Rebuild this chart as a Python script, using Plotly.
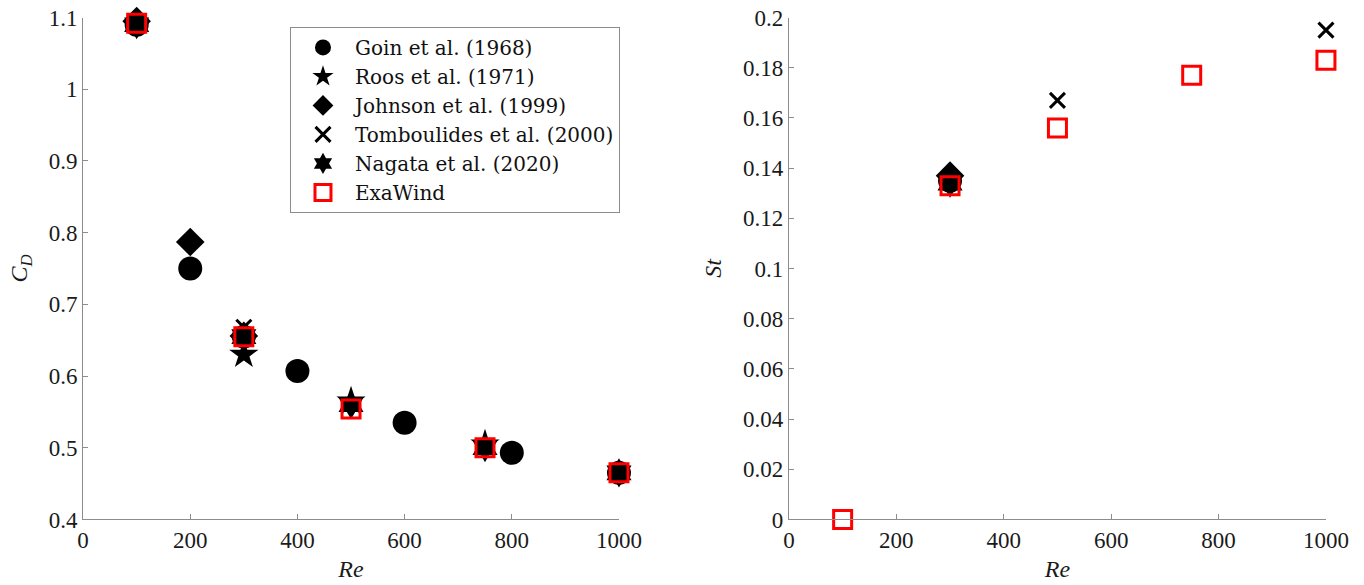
import plotly.graph_objects as go

# ---- data ----
goin_re = [100, 200, 300, 400, 600, 800, 1000]
goin_cd = [1.09, 0.75, 0.655, 0.607, 0.535, 0.493, 0.465]
roos_re = [300, 500, 750]
roos_cd = [0.63, 0.565, 0.505]
johnson_re = [100, 200, 300]
johnson_cd = [1.095, 0.787, 0.656]
tomb_re = [100, 300]
tomb_cd = [1.09, 0.668]
nagata_re = [100, 300, 500, 750, 1000]
nagata_cd = [1.09, 0.655, 0.56, 0.5, 0.465]
exa_re = [100, 300, 500, 750, 1000]
exa_cd = [1.092, 0.655, 0.554, 0.5, 0.465]

goin_st_re = [300]
goin_st = [0.135]
johnson_st_re = [300]
johnson_st = [0.137]
tomb_st_re = [300, 500, 1000]
tomb_st = [0.136, 0.167, 0.195]
nagata_st_re = [300]
nagata_st = [0.134]
exa_st_re = [100, 300, 500, 750, 1000]
exa_st = [0.0, 0.133, 0.156, 0.177, 0.183]

FONT = "Liberation Serif"
LEG_FONT = "DejaVu Serif"
fig = go.Figure()

series = [
    ("Goin et al. (1968)", dict(symbol="circle", size=24, color="black"), goin_re, goin_cd, goin_st_re, goin_st),
    ("Roos et al. (1971)", dict(symbol="star", size=22, color="black"), roos_re, roos_cd, None, None),
    ("Johnson et al. (1999)", dict(symbol="diamond", size=22, color="black"), johnson_re, johnson_cd, johnson_st_re, johnson_st),
    ("Tomboulides et al. (2000)", dict(symbol="x-thin", size=15, color="black", line=dict(color="black", width=3)), tomb_re, tomb_cd, tomb_st_re, tomb_st),
    ("Nagata et al. (2020)", dict(symbol="hexagram", size=22, color="black"), nagata_re, nagata_cd, nagata_st_re, nagata_st),
    ("ExaWind", dict(symbol="square-open", size=18, color="red", line=dict(color="red", width=3)), exa_re, exa_cd, exa_st_re, exa_st),
]

for name, mk, xr, yr, xs, ys in series:
    fig.add_trace(go.Scatter(x=xr, y=yr, mode="markers", name=name, marker=mk,
                             xaxis="x", yaxis="y", cliponaxis=False, showlegend=True))
    if xs is not None:
        fig.add_trace(go.Scatter(x=xs, y=ys, mode="markers", name=name, marker=mk,
                                 xaxis="x2", yaxis="y2", cliponaxis=False, showlegend=False))

axis_common = dict(showgrid=False, zeroline=False, showline=True, linecolor="#8c8c8c", linewidth=1,
                   ticks="inside", ticklen=5, tickcolor="#8c8c8c", automargin=False,
                   tickfont=dict(family=FONT, size=23, color="#1a1a1a"), mirror=False)
title_font = dict(family=FONT, size=24, color="#1a1a1a")

fig.update_layout(
    template="none",
    width=1364, height=585,
    margin=dict(l=0, r=0, t=0, b=0),
    paper_bgcolor="white", plot_bgcolor="white",
    font=dict(family=FONT, size=22, color="#1a1a1a"),
    xaxis=dict(domain=[0.0609, 0.4538], range=[0, 1000], tickvals=[0, 200, 400, 600, 800, 1000],
               title=dict(text="<i>Re</i>", font=title_font, standoff=8), anchor="y", **axis_common),
    yaxis=dict(domain=[0.112, 0.970], range=[0.4, 1.1], tickvals=[0.4, 0.5, 0.6, 0.7, 0.8, 0.9, 1, 1.1],
               ticktext=["0.4", "0.5", "0.6", "0.7", "0.8", "0.9", "1", "1.1"],
               title=dict(text="<i>C<sub>D</sub></i>", font=title_font, standoff=14), anchor="x", **axis_common),
    xaxis2=dict(domain=[0.5784, 0.9721], range=[0, 1000], tickvals=[0, 200, 400, 600, 800, 1000],
                title=dict(text="<i>Re</i>", font=title_font, standoff=8), anchor="y2", **axis_common),
    yaxis2=dict(domain=[0.112, 0.970], range=[0, 0.2],
                tickvals=[0, 0.02, 0.04, 0.06, 0.08, 0.1, 0.12, 0.14, 0.16, 0.18, 0.2],
                ticktext=["0", "0.02", "0.04", "0.06", "0.08", "0.1", "0.12", "0.14", "0.16", "0.18", "0.2"],
                title=dict(text="<i>St</i>", font=title_font, standoff=14), anchor="x2", **axis_common),
    legend=dict(x=0.2126, y=0.954, xanchor="left", yanchor="top",
                bordercolor="#8c8c8c", borderwidth=1, bgcolor="white",
                font=dict(family=LEG_FONT, size=20, color="#111111"), itemsizing="trace",
                itemwidth=54, tracegroupgap=0),
)

fig.write_html("out.html")
